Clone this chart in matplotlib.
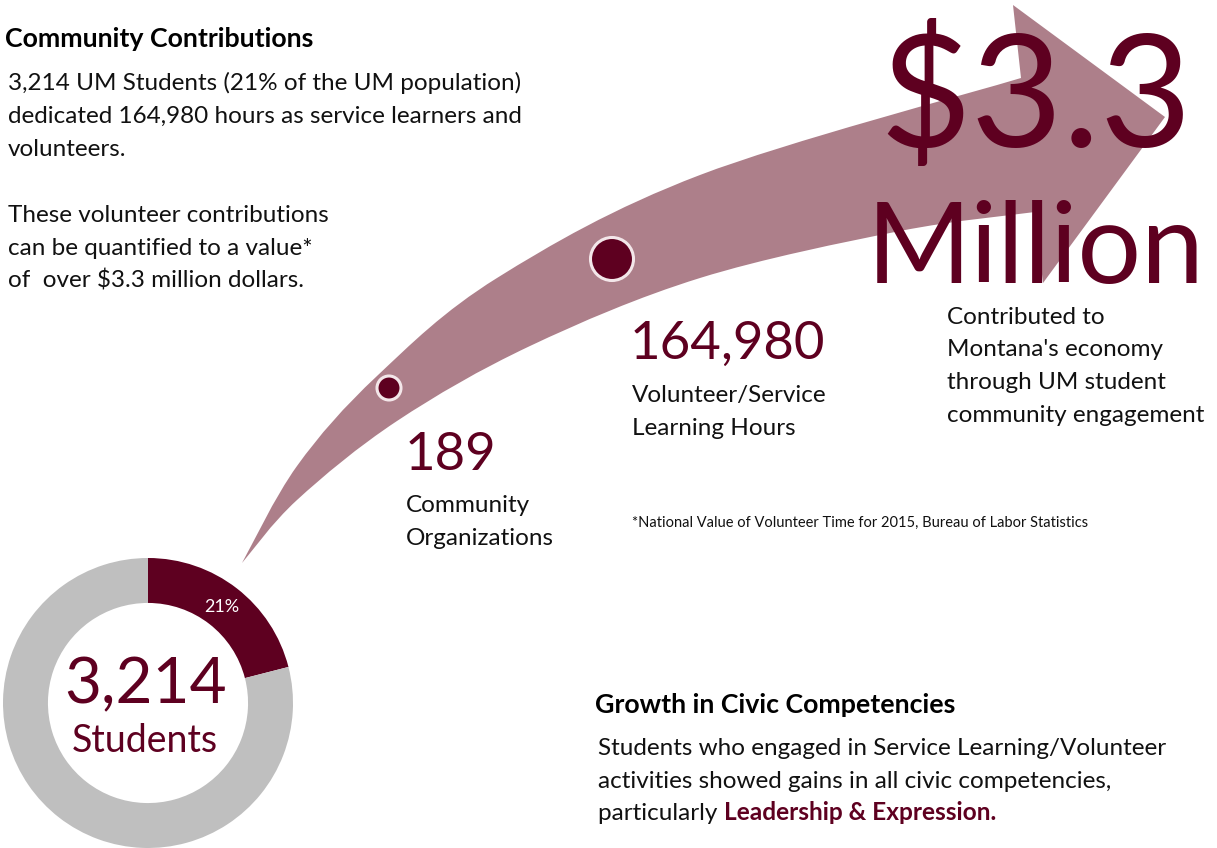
import numpy as np
import matplotlib
matplotlib.use("Agg")
import matplotlib.pyplot as plt
from matplotlib.path import Path
from matplotlib.patches import PathPatch, Circle

# data
students = 3214
share = 21                      # percent of UM population
orgs = 189
hours = 164980
dollars_m = 3.3
donut_vals = [share, 100 - share]

maroon = "#5E0020"
mauve = "#AD7F8A"
grey = "#BFBFBF"
ink = "#111111"
body = "Lato"
big = "Lato"
bigw = "normal"

fig = plt.figure(figsize=(12.17, 8.48), dpi=100)
ax = fig.add_axes([0, 0, 1, 1])
ax.set_xlim(0, 1217)
ax.set_ylim(848, 0)
ax.axis("off")


def smooth(pts):
    # catmull-rom through the edge points, as bezier segments
    pts = np.asarray(pts, float)
    verts, codes = [pts[0]], []
    n = len(pts)
    for i in range(n - 1):
        p0 = pts[max(i - 1, 0)]
        p1, p2 = pts[i], pts[i + 1]
        p3 = pts[min(i + 2, n - 1)]
        verts += [p1 + (p2 - p0) / 6, p2 - (p3 - p1) / 6, p2]
        codes += [Path.CURVE4] * 3
    return verts, codes


# the big curved arrow (decoration)
upper = [(242, 563), (297, 466), (377, 376), (497, 278), (700, 175),
         (1021, 78)]
lower = [(1035, 212), (900, 231), (700, 278), (530, 346), (397, 421),
         (297, 500), (242, 563)]
v1, c1 = smooth(upper)
head = [(1013, 5), (1165, 117), (1043, 283), (1035, 212)]
v2, c2 = smooth(lower)
verts = v1 + head + v2[1:] + [v1[0]]
codes = [Path.MOVETO] + c1 + [Path.LINETO] * 4 + c2 + [Path.CLOSEPOLY]
ax.add_patch(PathPatch(Path(verts, codes), facecolor=mauve, edgecolor="none", zorder=1))

# milestone dots
ax.add_patch(Circle((389, 388), 12, facecolor=maroon, edgecolor="#F3E6E9", lw=2.2, zorder=2))
ax.add_patch(Circle((612, 259), 21.5, facecolor=maroon, edgecolor="#F3E6E9", lw=2.2, zorder=2))

# left text block
ax.text(5, 47, "Community Contributions", fontsize=19.3, fontweight="bold",
        family=body, color="black")
left_lines = [f"{students:,} UM Students ({share}% of the UM population)",
              f"dedicated {hours:,} hours as service learners and",
              "volunteers.",
              "",
              "These volunteer contributions",
              "can be quantified to a value*",
              f"of  over ${dollars_m} million dollars."]
for i, s in enumerate(left_lines):
    ax.text(8, 90 + i * 33, s, fontsize=17.5, family=body, color=ink)

# milestones
ax.text(405, 470, f"{orgs}", fontsize=38, family=big, fontweight=bigw, color=maroon)
ax.text(406, 512, "Community", fontsize=17.5, family=body, color=ink)
ax.text(406, 545, "Organizations", fontsize=17.5, family=body, color=ink)

ax.text(630, 359, f"{hours:,}", fontsize=38, family=big, fontweight=bigw, color=maroon)
ax.text(632, 402, "Volunteer/Service", fontsize=17.5, family=body, color=ink)
ax.text(632, 435, "Learning Hours", fontsize=17.5, family=body, color=ink)

ax.text(1036, 147, f"${dollars_m}", fontsize=114, family=big, fontweight=bigw,
        color=maroon, ha="center", zorder=3)
ax.text(1036, 283, "Million", fontsize=81, family=big, fontweight=bigw,
        color=maroon, ha="center", zorder=3)
for i, s in enumerate(["Contributed to", "Montana's economy",
                       "through UM student", "community engagement"]):
    ax.text(947, 324 + i * 32.5, s, fontsize=17.5, family=body, color=ink)

ax.text(632, 527, "*National Value of Volunteer Time for 2015, Bureau of Labor Statistics",
        fontsize=10.5, family=body, color=ink)

# civic competencies
ax.text(595, 713, "Growth in Civic Competencies", fontsize=19.3, fontweight="bold",
        family=body, color="black")
ax.text(598, 755, "Students who engaged in Service Learning/Volunteer",
        fontsize=17.5, family=body, color=ink)
ax.text(598, 788, "activities showed gains in all civic competencies,",
        fontsize=17.5, family=body, color=ink)
t = ax.text(598, 820, "particularly ", fontsize=17.5, family=body, color=ink)
ax.annotate("Leadership & Expression.", xy=(1, 0), xycoords=t, va="bottom",
            fontsize=17.6, family=body, fontweight="bold", color=maroon)

# donut
dax = fig.add_axes([3 / 1217, 0, 290 / 1217, 290 / 848])
dax.pie(donut_vals, colors=[maroon, grey], startangle=90, counterclock=False,
        radius=1, wedgeprops=dict(width=0.31, edgecolor="none"),
        autopct=lambda p: f"{p:.0f}%" if p < 50 else "", pctdistance=0.835,
        textprops=dict(color="white", fontsize=13, family=body))
dax.set_xlim(-1, 1)
dax.set_ylim(-1, 1)
dax.set_aspect("equal")
dax.axis("off")
dax.text(-0.02, 0.0, f"{students:,}", fontsize=46, family=big, fontweight=bigw,
         color=maroon, ha="center", va="baseline")
dax.text(-0.02, -0.34, "Students", fontsize=27, family=big, fontweight=bigw,
         color=maroon, ha="center", va="baseline")

fig.savefig("out.png", dpi=100)
